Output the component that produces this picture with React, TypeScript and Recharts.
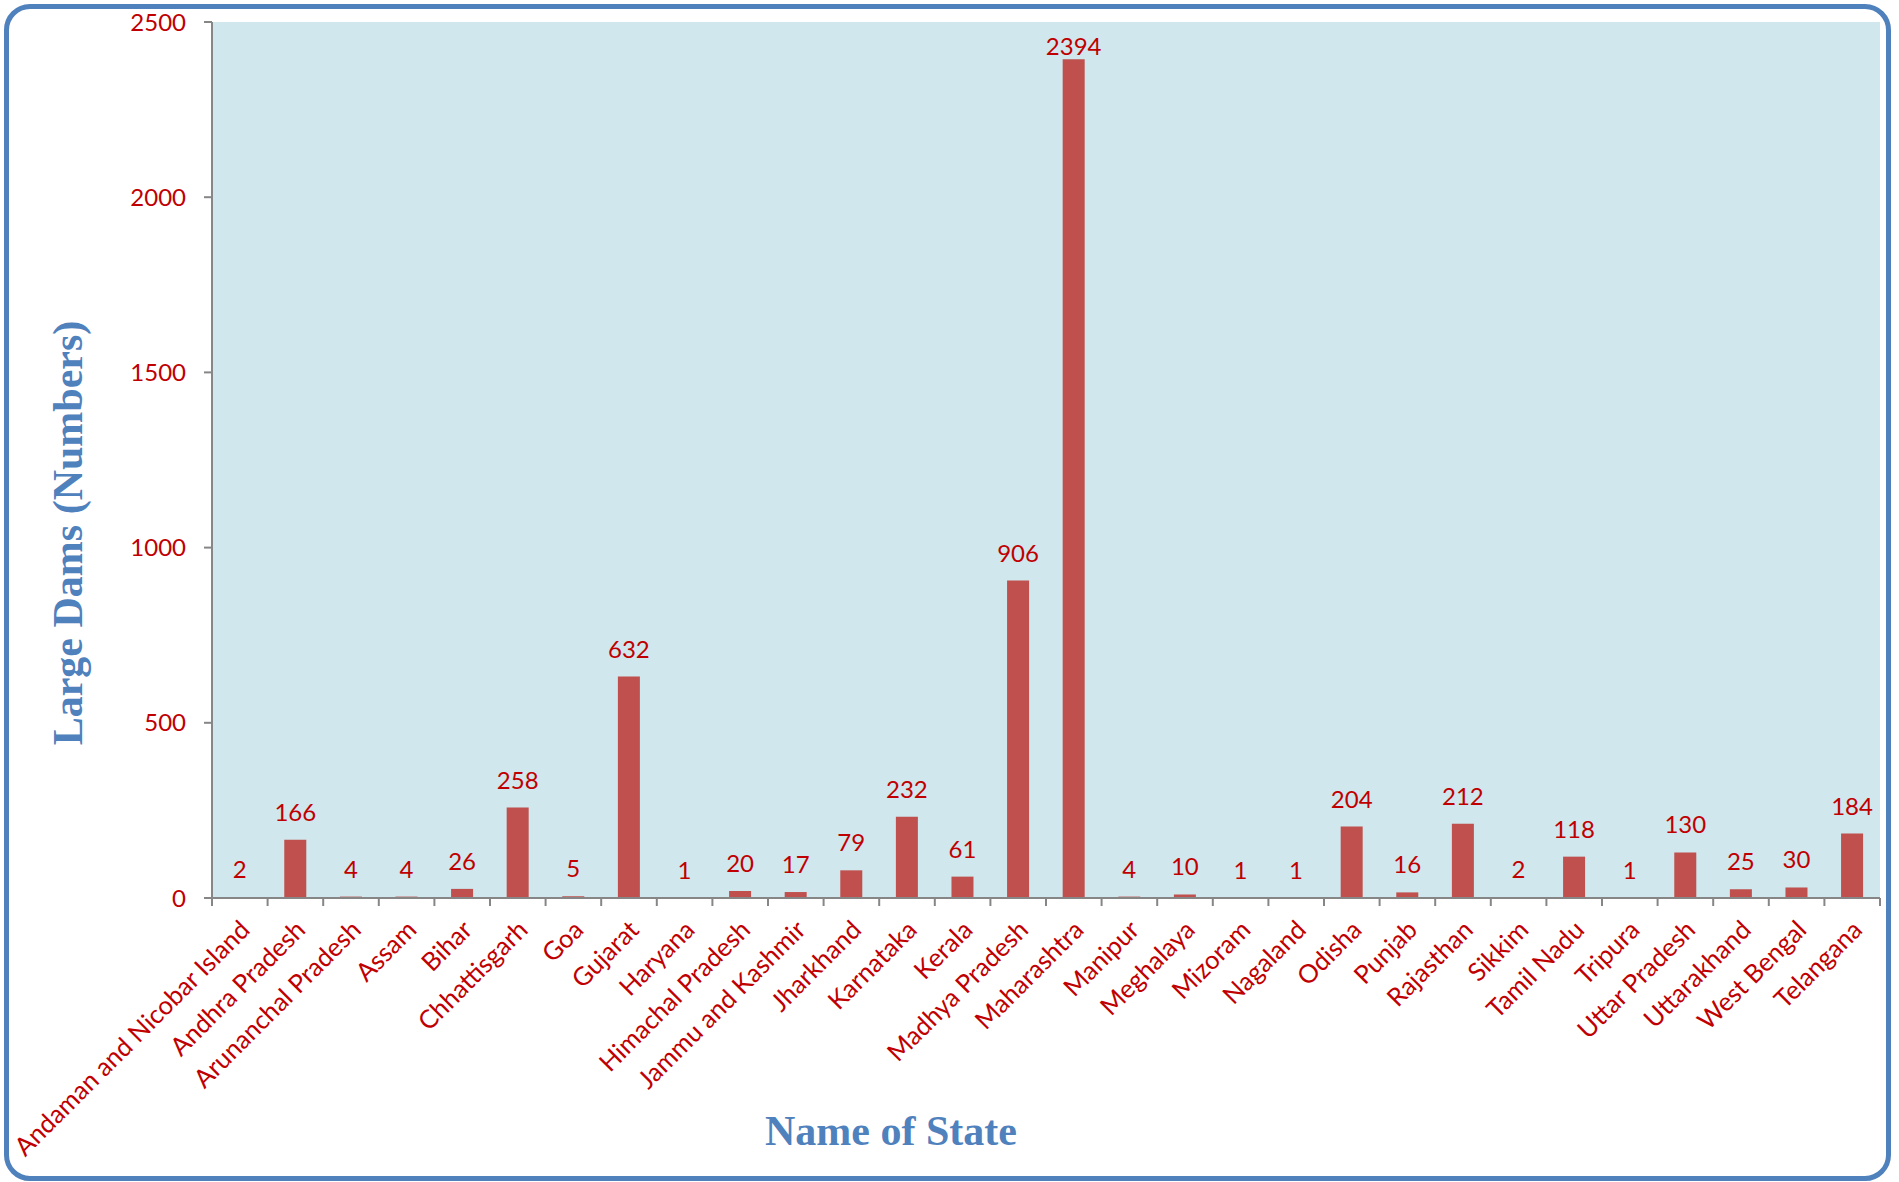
import React from 'react';
import { BarChart, Bar, XAxis, YAxis, CartesianGrid, LabelList } from 'recharts';

const categories: string[] = [
  'Andaman and Nicobar Island', 'Andhra Pradesh', 'Arunanchal Pradesh', 'Assam', 'Bihar',
  'Chhattisgarh', 'Goa', 'Gujarat', 'Haryana', 'Himachal Pradesh', 'Jammu and Kashmir',
  'Jharkhand', 'Karnataka', 'Kerala', 'Madhya Pradesh', 'Maharashtra', 'Manipur',
  'Meghalaya', 'Mizoram', 'Nagaland', 'Odisha', 'Punjab', 'Rajasthan', 'Sikkim',
  'Tamil Nadu', 'Tripura', 'Uttar Pradesh', 'Uttarakhand', 'West Bengal', 'Telangana',
];

const damCounts: number[] = [
  2, 166, 4, 4, 26, 258, 5, 632, 1, 20, 17, 79, 232, 61, 906, 2394, 4, 10, 1, 1,
  204, 16, 212, 2, 118, 1, 130, 25, 30, 184,
];

const yTicks: number[] = [0, 500, 1000, 1500, 2000, 2500];

const xTitle = 'Name of State';
const yTitle = 'Large Dams (Numbers)';

const data = categories.map((state, i) => ({ state, dams: damCounts[i] }));

const RED = '#C00000';
const AXIS = '#868686';
const TITLE = '#4F81BD';
const FONT = 'Lato, "Open Sans", sans-serif';
const FS = 24;
const FS_CAT = 25.5;

function XTick(props: any) {
  const { x, y, payload, index, width } = props;
  const half = payload && typeof payload.offset === 'number' && payload.offset > 0
    ? payload.offset
    : (width || 1668) / categories.length / 2;
  const isLast = index === categories.length - 1;
  return (
    <g>
      <line x1={x - half} x2={x - half} y1={y - 8} y2={y} stroke={AXIS} strokeWidth={2} />
      {isLast && <line x1={x + half} x2={x + half} y1={y - 8} y2={y} stroke={AXIS} strokeWidth={2} />}
      <text
        transform={`translate(${x + 5},${y + 19}) rotate(-45)`}
        textAnchor="end"
        dy="0.36em"
        fill={RED}
        fontSize={FS_CAT}
        fontFamily={FONT}
      >
        {payload.value}
      </text>
    </g>
  );
}

function BarValue(props: any) {
  const { x, y, width, value } = props;
  const baseline = Math.max(y - 19, 55);
  return (
    <text
      x={x + width / 2}
      y={baseline}
      textAnchor="middle"
      fill={RED}
      fontSize={FS}
      fontFamily={FONT}
    >
      {value}
    </text>
  );
}

export default function App() {
  return (
    <div style={{ position: 'relative', width: 1899, height: 1182, background: '#fff' }}>
      <style>{`body{margin:0;}`}</style>
      <div
        style={{
          position: 'absolute',
          left: 4,
          top: 4,
          width: 1887,
          height: 1177,
          boxSizing: 'border-box',
          border: '5px solid #4F81BD',
          borderRadius: 26,
        }}
      />
      <div style={{ position: 'absolute', left: 0, top: 0 }}>
        <BarChart
          width={1899}
          height={1182}
          data={data}
          margin={{ top: 22, right: 19, left: 92, bottom: 84 }}
          barCategoryGap="30%"
        >
          <CartesianGrid horizontal={false} vertical={false} fill="#CFE7ED" fillOpacity={1} />
          <XAxis
            dataKey="state"
            type="category"
            interval={0}
            height={200}
            tickSize={8}
            tickMargin={0}
            tickLine={false}
            axisLine={{ stroke: AXIS, strokeWidth: 2 }}
            tick={<XTick />}
          />
          <YAxis
            type="number"
            domain={[0, 2500]}
            ticks={yTicks}
            interval={0}
            width={120}
            tickSize={8}
            tickMargin={18}
            axisLine={{ stroke: AXIS, strokeWidth: 2 }}
            tickLine={{ stroke: AXIS, strokeWidth: 2 }}
            tick={{ fill: RED, fontSize: FS, fontFamily: FONT }}
          />
          <Bar dataKey="dams" fill="#C0504D" isAnimationActive={false}>
            <LabelList dataKey="dams" content={<BarValue />} />
          </Bar>
        </BarChart>
      </div>
      <svg
        width={1899}
        height={1182}
        style={{ position: 'absolute', left: 0, top: 0, pointerEvents: 'none' }}
      >
        <text
          x={891}
          y={1145}
          textAnchor="middle"
          fill={TITLE}
          fontSize={42}
          fontWeight="bold"
          fontFamily='"Liberation Serif", "Times New Roman", serif'
        >
          {xTitle}
        </text>
        <text
          x={82}
          y={533}
          transform="rotate(-90, 82, 533)"
          textAnchor="middle"
          fill={TITLE}
          fontSize={42}
          fontWeight="bold"
          fontFamily='"Liberation Serif", "Times New Roman", serif'
        >
          {yTitle}
        </text>
      </svg>
    </div>
  );
}
